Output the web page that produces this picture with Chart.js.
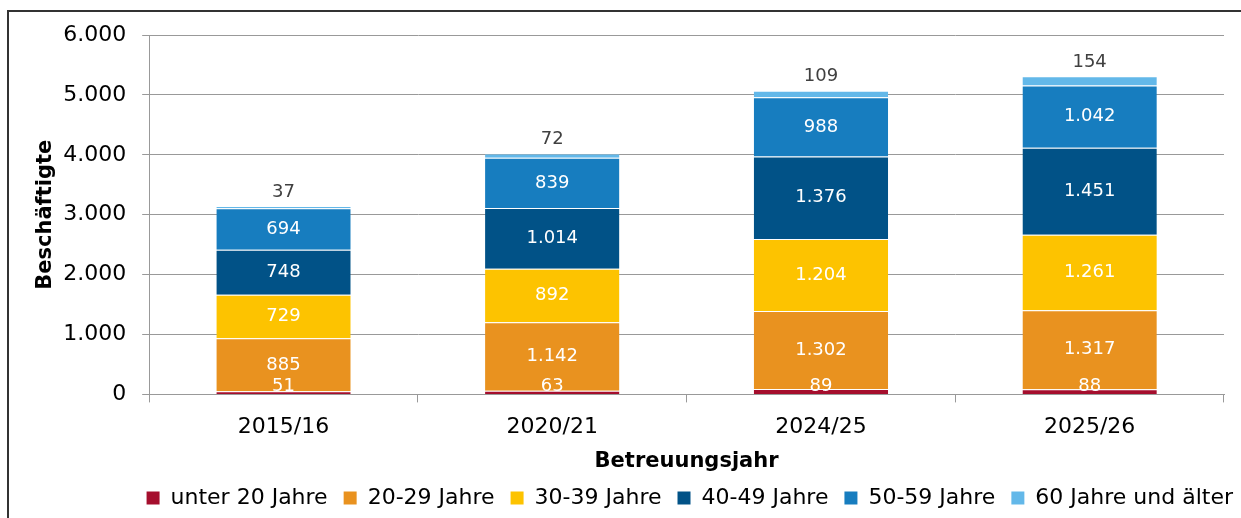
<!DOCTYPE html>
<html>
<head>
<meta charset="utf-8">
<script src="https://cdn.jsdelivr.net/npm/chart.js@4/dist/chart.umd.min.js"></script>
<style>
  html, body { margin: 0; padding: 0; background: #fff; }
  #wrap { position: relative; width: 1241px; height: 518px; }
  #frame { position: absolute; left: 7px; top: 10px; right: -5px; bottom: -5px;
           border-left: 2px solid #333; border-top: 2px solid #333; pointer-events: none; }
</style>
</head>
<body>
<div id="wrap">
  <canvas id="myChart" width="1241" height="518"></canvas>
  <div id="frame"></div>
</div>
<script>
var years = ["2015/16", "2020/21", "2024/25", "2025/26"];
var unter20 = [51, 63, 89, 88];
var j20_29 = [885, 1142, 1302, 1317];
var j30_39 = [729, 892, 1204, 1261];
var j40_49 = [748, 1014, 1376, 1451];
var j50_59 = [694, 839, 988, 1042];
var j60plus = [37, 72, 109, 154];
var yTicks = [0, 1000, 2000, 3000, 4000, 5000, 6000];

var FONT = "'DejaVu Sans', sans-serif";

// German thousands separator
function fmt(v) {
  return String(v).replace(/\B(?=(\d{3})+(?!\d))/g, ".");
}

// draws the numbers in the segments, last series above the bar
var segLabels = {
  id: "segLabels",
  afterDatasetsDraw: function(chart) {
    var ctx = chart.ctx;
    var n = chart.data.datasets.length;
    ctx.save();
    ctx.font = "18px " + FONT;
    ctx.textAlign = "center";
    ctx.textBaseline = "middle";
    chart.data.datasets.forEach(function(ds, i) {
      var meta = chart.getDatasetMeta(i);
      meta.data.forEach(function(bar, j) {
        var v = ds.data[j];
        if (i == n - 1) {
          ctx.fillStyle = "#404040";
          ctx.fillText(fmt(v), bar.x, bar.y - 14);
        } else {
          var y = (bar.y + bar.base) / 2;
          if (y > bar.base - 8) y = bar.base - 8;
          ctx.fillStyle = "#ffffff";
          ctx.fillText(fmt(v), bar.x, y);
        }
      });
    });
    ctx.restore();
  }
};

// push the legend a bit to the right, like the original
var legendShift = {
  id: "legendShift",
  afterLayout: function(chart) {
    chart.legend.left += 25;
    chart.legend.right += 25;
  }
};

function series(label, data, color) {
  return { label: label, data: data, backgroundColor: color,
           borderWidth: { top: 1, left: 0, right: 0, bottom: 0 }, borderColor: "rgba(255,255,255,0.3)",
           barPercentage: 0.5, categoryPercentage: 1.0 };
}

new Chart("myChart", {
  type: "bar",
  data: {
    labels: years,
    datasets: [
      series("unter 20 Jahre", unter20, "#A50E2D"),
      series("20-29 Jahre", j20_29, "#E9921F"),
      series("30-39 Jahre", j30_39, "#FDC300"),
      series("40-49 Jahre", j40_49, "#015287"),
      series("50-59 Jahre", j50_59, "#177DBF"),
      series("60 Jahre und älter", j60plus, "#63B8E9")
    ]
  },
  options: {
    responsive: false,
    animation: false,
    layout: { padding: { left: 33, right: 17, top: 35, bottom: -1 } },
    plugins: {
      legend: {
        position: "bottom",
        align: "end",
        labels: { font: { family: FONT, size: 22 }, color: "#000", boxWidth: 13, boxHeight: 13, padding: 16,
                  generateLabels: function(chart) {
                    var items = Chart.defaults.plugins.legend.labels.generateLabels(chart);
                    items.forEach(function(it) { it.lineWidth = 0; });
                    return items;
                  } }
      },
      tooltip: { enabled: false }
    },
    scales: {
      x: {
        stacked: true,
        grid: { display: true, drawOnChartArea: false, drawTicks: true, tickLength: 8, color: "#999", offset: true },
        border: { color: "#999" },
        ticks: { font: { family: FONT, size: 22 }, color: "#000", padding: 12 },
        title: { display: true, text: "Betreuungsjahr", font: { family: FONT, size: 21, weight: "bold" }, color: "#000", padding: { top: -4, bottom: -3 } }
      },
      y: {
        stacked: true,
        min: 0, max: 6000,
        afterBuildTicks: function(axis) { axis.ticks = yTicks.map(function(v) { return { value: v }; }); },
        grid: { color: "#999", tickLength: 7 },
        border: { color: "#999" },
        ticks: { font: { family: FONT, size: 22 }, color: "#000", padding: 16, callback: function(v) { return fmt(v); } },
        title: { display: true, text: "Beschäftigte", font: { family: FONT, size: 21, weight: "bold" }, color: "#000", padding: { top: 0, bottom: -11 } }
      }
    }
  },
  plugins: [segLabels, legendShift]
});
</script>
</body>
</html>
